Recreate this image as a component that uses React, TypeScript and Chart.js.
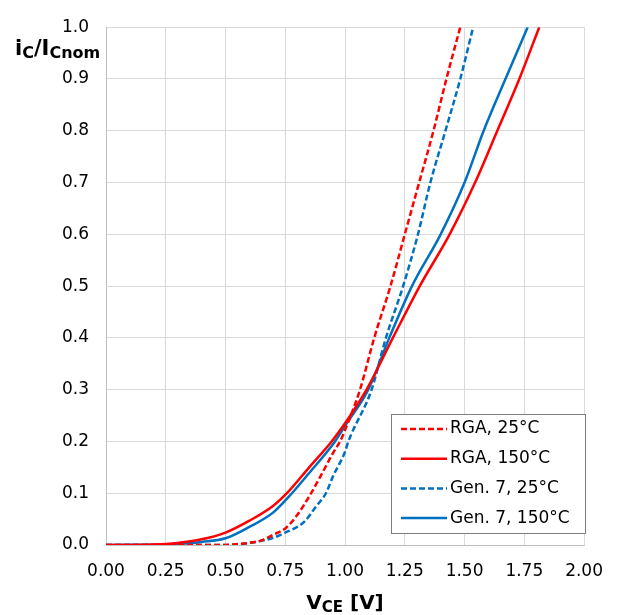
import React, { useEffect, useRef } from 'react';
import { Chart, registerables } from 'chart.js';

Chart.register(...registerables);

// Series: V_CE [V] and i_C / I_Cnom
const rga25V = [0, 0.5, 0.55, 0.6, 0.65, 0.7, 0.75, 0.8, 0.858, 0.9, 0.95, 0.979, 1.0, 1.0625, 1.122, 1.19, 1.25, 1.31, 1.37, 1.424, 1.482];
const rga25I = [0, 0, 0.002, 0.004, 0.009, 0.02, 0.032, 0.058, 0.1, 0.135, 0.178, 0.2, 0.222, 0.3, 0.4, 0.5, 0.6, 0.7, 0.8, 0.9, 1.0];

const rga150V = [0, 0.2, 0.3, 0.4, 0.5, 0.6, 0.7, 0.757, 0.85, 0.944, 1.0, 1.09, 1.2, 1.3125, 1.4375, 1.544, 1.637, 1.729, 1.8125];
const rga150I = [0, 0.001, 0.004, 0.011, 0.024, 0.047, 0.076, 0.1, 0.15, 0.2, 0.235, 0.3, 0.4, 0.5, 0.6, 0.7, 0.8, 0.9, 1.0];

const gen25V = [0, 0.5, 0.6, 0.7, 0.75, 0.8, 0.83, 0.88, 0.92, 0.95, 1.0, 1.014, 1.111, 1.171, 1.243, 1.305, 1.357, 1.42, 1.482, 1.536];
const gen25I = [0, 0, 0.004, 0.014, 0.024, 0.035, 0.045, 0.075, 0.1, 0.133, 0.18, 0.2, 0.3, 0.4, 0.5, 0.6, 0.7, 0.8, 0.9, 1.0];

const gen150V = [0, 0.3, 0.4, 0.5, 0.6, 0.7, 0.778, 0.85, 0.958, 1.0, 1.097, 1.185, 1.28, 1.4, 1.5, 1.58, 1.671, 1.764];
const gen150I = [0, 0.002, 0.006, 0.013, 0.035, 0.063, 0.1, 0.139, 0.2, 0.23, 0.3, 0.4, 0.5, 0.6, 0.7, 0.8, 0.9, 1.0];

const seriesLabels = ['RGA, 25°C', 'RGA, 150°C', 'Gen. 7, 25°C', 'Gen. 7, 150°C'];

const RED = '#FF0000';
const BLUE = '#0070C0';
const FONT = '"DejaVu Sans", Verdana, sans-serif';

const zip = (xs: number[], ys: number[]) => xs.map((x, i) => ({ x, y: ys[i] }));

type Part = { t: string; sub: boolean };

function drawParts(ctx: CanvasRenderingContext2D, parts: Part[], x: number, y: number, main: number, sub: number, align: 'left' | 'center') {
  const fontOf = (p: Part) => `bold ${p.sub ? sub : main}px ${FONT}`;
  let total = 0;
  for (const p of parts) {
    ctx.font = fontOf(p);
    total += ctx.measureText(p.t).width;
  }
  let cx = align === 'center' ? x - total / 2 : x;
  ctx.textBaseline = 'alphabetic';
  ctx.textAlign = 'left';
  for (const p of parts) {
    ctx.font = fontOf(p);
    ctx.fillText(p.t, cx, p.sub ? y + 3 : y);
    cx += ctx.measureText(p.t).width;
  }
}

const overlayPlugin = {
  id: 'overlay',
  afterDraw(chart: any) {
    const ctx: CanvasRenderingContext2D = chart.ctx;
    const area = chart.chartArea;
    ctx.save();
    ctx.fillStyle = '#000';
    // axis titles
    drawParts(ctx, [{ t: 'i', sub: false }, { t: 'C', sub: true }, { t: '/I', sub: false }, { t: 'Cnom', sub: true }], 15, 55, 21, 16, 'left');
    drawParts(ctx, [{ t: 'V', sub: false }, { t: 'CE', sub: true }, { t: ' [V]', sub: false }], (area.left + area.right) / 2, 609, 20, 15, 'center');

    // legend
    const bx = 391, by = 414, bw = 194, bh = 119;
    ctx.fillStyle = '#FFFFFF';
    ctx.fillRect(bx, by, bw, bh);
    ctx.strokeStyle = '#7F7F7F';
    ctx.lineWidth = 1;
    ctx.strokeRect(bx + 0.5, by + 0.5, bw, bh);
    chart.data.datasets.forEach((ds: any, i: number) => {
      const yy = 429 + i * 29.7;
      ctx.beginPath();
      ctx.strokeStyle = ds.borderColor;
      ctx.lineWidth = 2.5;
      ctx.setLineDash(ds.borderDash || []);
      ctx.moveTo(401, yy);
      ctx.lineTo(447, yy);
      ctx.stroke();
      ctx.setLineDash([]);
      ctx.fillStyle = '#000';
      ctx.font = `17px ${FONT}`;
      ctx.textBaseline = 'middle';
      ctx.textAlign = 'left';
      ctx.fillText(ds.label, 450, yy);
    });
    ctx.restore();
  },
};

export default function App() {
  const ref = useRef<HTMLCanvasElement>(null);

  useEffect(() => {
    if (!ref.current) return;
    const dash = [6, 3];
    const chart = new Chart(ref.current, {
      type: 'line',
      data: {
        datasets: [
          { label: seriesLabels[0], data: zip(rga25V, rga25I), borderColor: RED, borderDash: dash },
          { label: seriesLabels[1], data: zip(rga150V, rga150I), borderColor: RED },
          { label: seriesLabels[2], data: zip(gen25V, gen25I), borderColor: BLUE, borderDash: dash },
          { label: seriesLabels[3], data: zip(gen150V, gen150I), borderColor: BLUE },
        ].map((d) => ({
          ...d,
          borderWidth: 2.5,
          pointRadius: 0,
          fill: false,
          cubicInterpolationMode: 'monotone' as const,
        })),
      },
      options: {
        responsive: false,
        animation: false,
        devicePixelRatio: 1,
        layout: { padding: { top: 18, right: 32, left: 0, bottom: 0 } },
        plugins: { legend: { display: false }, tooltip: { enabled: false } },
        scales: {
          x: {
            type: 'linear',
            min: 0,
            max: 2,
            afterFit: (s: any) => { s.height = 70; },
            ticks: {
              stepSize: 0.25,
              padding: 16,
              color: '#000',
              font: { family: FONT, size: 17 },
              callback: (v: any) => Number(v).toFixed(2),
            },
            grid: { color: '#D9D9D9', lineWidth: 1, drawTicks: false },
            border: { color: '#BFBFBF' },
          },
          y: {
            type: 'linear',
            min: 0,
            max: 1,
            afterFit: (s: any) => { s.width = 106; },
            ticks: {
              stepSize: 0.1,
              padding: 17,
              color: '#000',
              font: { family: FONT, size: 17 },
              callback: (v: any) => Number(v).toFixed(1),
            },
            grid: { color: '#D9D9D9', lineWidth: 1, drawTicks: false },
            border: { color: '#BFBFBF' },
          },
        },
      },
      plugins: [overlayPlugin],
    } as any);
    return () => chart.destroy();
  }, []);

  return (
    <div style={{ position: 'absolute', left: 0, top: 0, width: 619, height: 615, background: '#fff' }}>
      <canvas ref={ref} width={619} height={615} style={{ width: 619, height: 615, display: 'block' }} />
    </div>
  );
}
